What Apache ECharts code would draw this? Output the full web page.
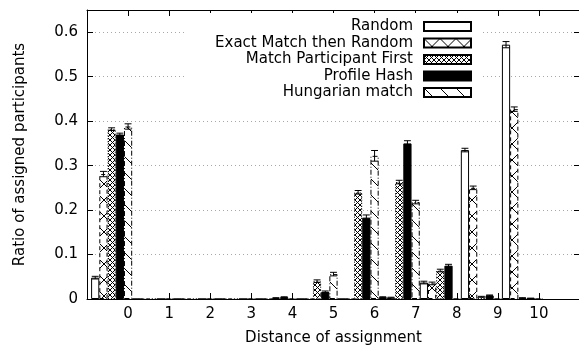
<!DOCTYPE html>
<html>
<head>
<meta charset="utf-8">
<script src="https://cdn.jsdelivr.net/npm/echarts@6/dist/echarts.min.js"></script>
<style>
html, body { margin: 0; padding: 0; background: #fff; }
#container { width: 579px; height: 347px; }
</style>
</head>
<body>
<div id="container"></div>
<script>
// distance groups (tick label sits on the last bar of each group)
var groups = ['0', '1', '2', '3', '4', '5', '6', '7', '8', '9', '10'];
var names = ['Random', 'Exact Match then Random', 'Match Participant First', 'Profile Hash', 'Hungarian match'];

var random    = [0.048, 0, 0, 0, 0, 0, 0, 0.004, 0.037, 0.335, 0.572];
var exact     = [0.281, 0, 0, 0, 0, 0, 0, 0.003, 0.035, 0.250, 0.427];
var partFirst = [0.382, 0, 0, 0, 0.002, 0.040, 0.240, 0.263, 0.064, 0.005, 0.002];
var profile   = [0.370, 0, 0, 0, 0.004, 0.016, 0.183, 0.350, 0.075, 0.008, 0.001];
var hungarian = [0.388, 0, 0, 0, 0, 0.056, 0.322, 0.218, 0, 0, 0];

var randomErr    = [0.003, 0, 0, 0, 0, 0, 0, 0.001, 0.003, 0.004, 0.007];
var exactErr     = [0.006, 0, 0, 0, 0, 0, 0, 0.001, 0.003, 0.004, 0.005];
var partFirstErr = [0.003, 0, 0, 0, 0.001, 0.003, 0.004, 0.004, 0.003, 0.001, 0.001];
var profileErr   = [0.003, 0, 0, 0, 0.001, 0.002, 0.006, 0.006, 0.003, 0.001, 0.001];
var hungarianErr = [0.006, 0, 0, 0, 0, 0.004, 0.012, 0.004, 0, 0, 0];

var yTicks = [0, 0.1, 0.2, 0.3, 0.4, 0.5, 0.6];

var FONT = 'DejaVu Sans';
var FS = 15;

// gnuplot-ish fill patterns
function tile(size, draw) {
    var c = document.createElement('canvas');
    c.width = size; c.height = size;
    var ctx = c.getContext('2d');
    ctx.fillStyle = '#fff';
    ctx.fillRect(0, 0, size, size);
    ctx.strokeStyle = '#000';
    ctx.lineWidth = 1;
    draw(ctx, size);
    return c;
}
function cross(ctx, s) {
    ctx.beginPath();
    ctx.moveTo(-2, -2); ctx.lineTo(s + 2, s + 2);
    ctx.moveTo(s + 2, -2); ctx.lineTo(-2, s + 2);
    ctx.stroke();
}
function back(ctx, s) {
    ctx.beginPath();
    ctx.moveTo(-2, -2); ctx.lineTo(s + 2, s + 2);
    ctx.stroke();
}
var pDense = {image: tile(5, cross), repeat: 'repeat'};
var pSparse = {image: tile(16, cross), repeat: 'repeat'};
var pBack = {image: tile(16, back), repeat: 'repeat'};

var values = [random, exact, partFirst, profile, hungarian];
var errs = [randomErr, exactErr, partFirstErr, profileErr, hungarianErr];
var styles = [
    {color: '#fff', borderColor: '#000', borderWidth: 1},
    {color: pSparse, borderColor: '#000', borderWidth: 1, borderType: [4, 3]},
    {color: pDense, borderColor: '#000', borderWidth: 1, borderType: [1, 2]},
    {color: '#000', borderColor: '#000', borderWidth: 1},
    {color: pBack, borderColor: '#000', borderWidth: 1, borderType: [5, 2, 1, 2]}
];

var errData = [];
values.forEach(function (arr, j) {
    arr.forEach(function (v, k) {
        if (errs[j][k] > 0) errData.push([k, v, errs[j][k], j]);
    });
});

function renderErr(params, api) {
    var k = api.value(0), v = api.value(1), e = api.value(2), j = api.value(3);
    var band = api.size([1, 0])[0];
    var w = band / 5;
    var x = api.coord([k, v])[0] + (j - 2) * w;
    var top = api.coord([k, v + e])[1];
    var bot = api.coord([k, Math.max(v - e, 0)])[1];
    var h = w * 0.42;
    var st = {stroke: '#000', lineWidth: 1, fill: null};
    return {
        type: 'group',
        children: [
            {type: 'line', shape: {x1: x, y1: top, x2: x, y2: bot}, style: st},
            {type: 'line', shape: {x1: x - h, y1: top, x2: x + h, y2: top}, style: st},
            {type: 'line', shape: {x1: x - h, y1: bot, x2: x + h, y2: bot}, style: st}
        ]
    };
}

var series = names.map(function (n, j) {
    return {
        name: n,
        type: 'bar',
        xAxisIndex: 2,
        yAxisIndex: 2,
        barGap: '0%',
        barCategoryGap: '0%',
        itemStyle: styles[j],
        emphasis: {disabled: true},
        data: values[j]
    };
});
series.push({
    name: 'err',
    type: 'custom',
    xAxisIndex: 2,
    yAxisIndex: 2,
    z: 4,
    renderItem: renderErr,
    data: errData
});

var tickStyle = {inside: true, length: 6, lineStyle: {color: '#000', width: 1}};
var lineStyle = {onZero: false, lineStyle: {color: '#000', width: 1}};

var option = {
    animation: false,
    backgroundColor: '#fff',
    textStyle: {fontFamily: FONT},
    grid: [
        {left: 87, right: -1, top: 10, bottom: 48, containLabel: false, outerBoundsMode: 'none'},
        {left: 91.1, right: 36, top: 10, bottom: 48, containLabel: false, outerBoundsMode: 'none'}
    ],
    legend: {
        data: names,
        orient: 'vertical',
        align: 'right',
        right: 97,
        top: 13,
        icon: 'rect',
        itemWidth: 47,
        itemHeight: 9,
        itemGap: 1.5,
        backgroundColor: '#fff',
        padding: [6, 10, 4, 30],
        selectedMode: false,
        textStyle: {color: '#000', fontSize: FS, fontFamily: FONT, padding: [0, 6, 0, 0]}
    },
    xAxis: [
        {
            type: 'value', gridIndex: 0, min: -1, max: 11, interval: 1, position: 'bottom',
            axisLine: lineStyle, axisTick: tickStyle, splitLine: {show: false},
            axisLabel: {
                color: '#000', fontSize: FS, fontFamily: FONT, margin: 8,
                formatter: function (v) { return (v < 0 || v > 10) ? '' : String(v); }
            },
            name: 'Distance of assignment', nameLocation: 'middle', nameGap: 32,
            nameTextStyle: {color: '#000', fontSize: FS, fontFamily: FONT}
        },
        {
            type: 'value', gridIndex: 0, min: -1, max: 11, interval: 1, position: 'top',
            axisLine: lineStyle, axisTick: tickStyle, splitLine: {show: false},
            axisLabel: {show: false}
        },
        {type: 'category', gridIndex: 1, data: groups, show: false}
    ],
    yAxis: [
        {
            type: 'value', gridIndex: 0, min: 0, max: 0.65, interval: 0.1, position: 'left',
            axisLine: lineStyle, axisTick: tickStyle,
            splitLine: {show: true, lineStyle: {color: '#a8a8a8', width: 1, type: [1, 3]}},
            axisLabel: {
                color: '#000', fontSize: FS, fontFamily: FONT, margin: 9,
                formatter: function (v) {
                    for (var i = 0; i < yTicks.length; i++) {
                        if (Math.abs(v - yTicks[i]) < 1e-6) return v === 0 ? '0' : yTicks[i].toFixed(1);
                    }
                    return '';
                }
            },
            name: 'Ratio of assigned participants', nameLocation: 'middle', nameGap: 59,
            nameTextStyle: {color: '#000', fontSize: FS, fontFamily: FONT}
        },
        {
            type: 'value', gridIndex: 0, min: 0, max: 0.65, interval: 0.1, position: 'right',
            axisLine: lineStyle, axisTick: tickStyle, splitLine: {show: false},
            axisLabel: {show: false}
        },
        {type: 'value', gridIndex: 1, min: 0, max: 0.65, show: false}
    ],
    series: series
};

var chart = echarts.init(document.getElementById('container'));
chart.setOption(option);
</script>
</body>
</html>
